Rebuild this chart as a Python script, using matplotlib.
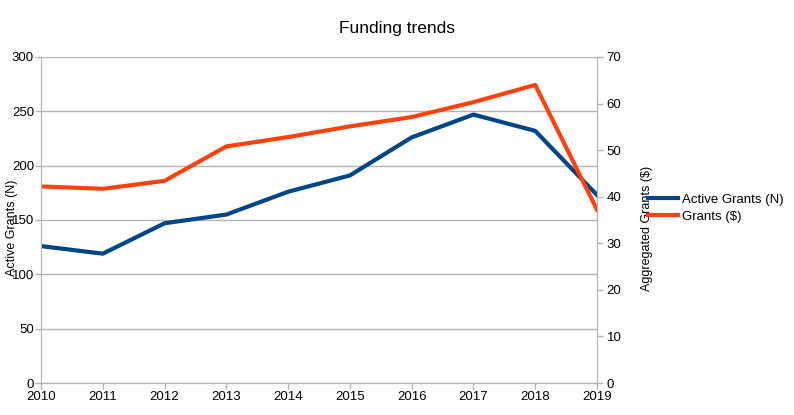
import matplotlib
matplotlib.use('Agg')
import matplotlib.pyplot as plt

years = [2010, 2011, 2012, 2013, 2014, 2015, 2016, 2017, 2018, 2019]
active_grants = [126, 119, 147, 155, 176, 191, 226, 247, 232, 173]
grants_dollars = [42.2, 41.7, 43.4, 50.8, 52.8, 55.1, 57.1, 60.3, 64.0, 37.2]

left_ticks = [0, 50, 100, 150, 200, 250, 300]
right_ticks = [0, 10, 20, 30, 40, 50, 60, 70]

blue = '#004586'
orange = '#ff420e'
grid_gray = '#b3b3b3'

plt.rcParams['font.family'] = ['Liberation Sans', 'DejaVu Sans']

fig = plt.figure(figsize=(7.94, 4.15), dpi=100)
ax = fig.add_axes([41 / 794, 1 - 383 / 415, 556 / 794, 326 / 415])
ax2 = ax.twinx()

# Plotting both series, one on each y axis
line1, = ax.plot(years, active_grants, color=blue, linewidth=3, label='Active Grants (N)')
line2, = ax2.plot(years, grants_dollars, color=orange, linewidth=3, label='Grants ($)')
ax2.set_zorder(ax.get_zorder() + 1)
ax2.patch.set_visible(False)

ax.set_xlim(years[0], years[-1])
ax.set_ylim(0, 300)
ax2.set_ylim(0, 70)
ax.set_xticks(years)
ax.set_yticks(left_ticks)
ax2.set_yticks(right_ticks)

ax.grid(axis='y', color=grid_gray, linewidth=1)
ax.set_axisbelow(True)

for a in (ax, ax2):
    for side in ('left', 'right', 'bottom'):
        a.spines[side].set_color(grid_gray)
    a.spines['top'].set_visible(False)
    a.tick_params(colors=grid_gray, labelcolor='black', labelsize=9.5, length=4, width=1, direction='out')
ax.tick_params(axis='y', pad=1)
ax2.tick_params(axis='y', pad=3)
ax.tick_params(axis='x', pad=2)

# Axis titles and chart title
fig.text(12 / 794, 1 - 228 / 415, 'Active Grants (N)', rotation=90, ha='center', va='center', fontsize=9)
fig.text(647 / 794, 1 - 228 / 415, 'Aggregated Grants ($)', rotation=90, ha='center', va='center', fontsize=9)
fig.text(397 / 794, 1 - 28 / 415, 'Funding trends', ha='center', va='center', fontsize=12.5)

# Legend
fig.legend(handles=[line1, line2], loc='center left', bbox_to_anchor=(648 / 794, 1 - 208 / 415),
           frameon=False, fontsize=9.5, handlelength=2.3, handletextpad=0.3, labelspacing=0.35,
           borderaxespad=0, borderpad=0)

fig.savefig('out.png', dpi=100)
